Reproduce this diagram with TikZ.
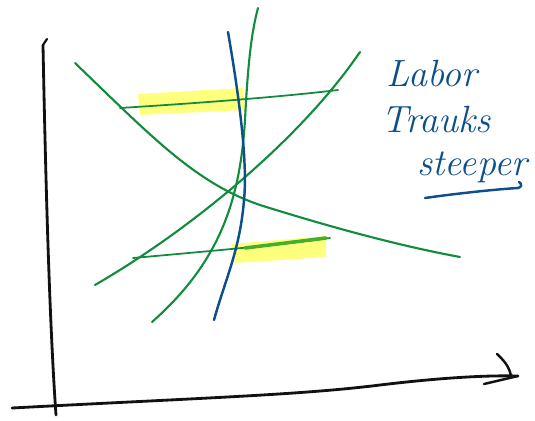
\documentclass[tikz,border=0pt]{standalone}
\usepackage{tikz}
\usetikzlibrary{positioning,calc}

\definecolor{penblack}{HTML}{111111}
\definecolor{pengreen}{HTML}{118C3C}
\definecolor{penblue}{HTML}{0D4F8B}
\definecolor{marker}{HTML}{FFFF70}

\begin{document}
\begin{tikzpicture}[x=0.5mm,y=-0.5mm,line cap=round,line join=round]
\useasboundingbox (0,0) rectangle (535,420);

% Highlighter marks
\fill[marker,opacity=0.9] (138,94) -- (243,88) -- (245,110) -- (140,115) -- cycle;
\fill[marker,opacity=0.9] (232,244) -- (326,236) -- (326,257) -- (235,263) -- cycle;

% Axes
\draw[penblack,line width=4pt]
(43,45) .. controls (46,200) and (50,330) .. (56,415);
\draw[penblack,line width=3pt] (43,45) -- (47,39);
\draw[penblack,line width=4pt]
(12,408) .. controls (200,398) and (300,395) .. (380,385)
.. controls (430,379) and (480,375) .. (518,376);
\draw[penblack,line width=3.5pt]
(497,354) .. controls (507,363) and (510,370) .. (511,376);
\draw[penblack,line width=3.5pt] (484,384) -- (518,376);

% Falling curve
\draw[pengreen,line width=3pt]
(75,63) .. controls (150,135) and (195,183) .. (260,205)
.. controls (330,227) and (400,246) .. (460,257);

% Rising curve
\draw[pengreen,line width=3pt]
(95,285) .. controls (190,230) and (300,140) .. (360,52);

% Flat lines
\draw[pengreen,line width=2.5pt]
(120,108) .. controls (200,103) and (280,97) .. (338,90);
\draw[pengreen,line width=2.5pt]
(133,258) .. controls (200,252) and (280,245) .. (330,238);
\draw[pengreen!70!lime,line width=5pt] (245,248) -- (326,238);

% Steep curve
\draw[pengreen,line width=3pt]
(152,322) .. controls (220,262) and (240,200) .. (245,120)
.. controls (248,60) and (252,30) .. (258,8);

% Blue curve
\draw[penblue,line width=3.5pt]
(228,32) .. controls (238,90) and (248,160) .. (244,200)
.. controls (240,250) and (225,280) .. (214,320);

% Handwritten note
\node[penblue,font=\itshape\fontsize{54}{54}\selectfont] (labor) at (432,74) {Labor};
\node[penblue,font=\itshape\fontsize{54}{54}\selectfont] (trauks) at (436,120) {Trauks};
\node[penblue,font=\itshape\fontsize{54}{54}\selectfont] (steeper) at (472,167) {steeper};
\draw[penblue,line width=3.5pt]
(425,198) .. controls (460,193) and (500,189) .. (518,188)
.. controls (522,187) and (522,184) .. (519,182);

\end{tikzpicture}
\end{document}
